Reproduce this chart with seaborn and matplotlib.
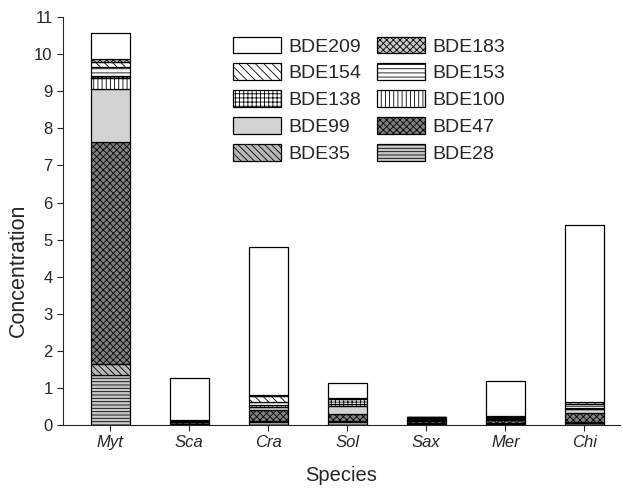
import matplotlib
matplotlib.use("Agg")
import matplotlib.pyplot as plt
import numpy as np
import pandas as pd
import seaborn as sns

species = ["Myt", "Sca", "Cra", "Sol", "Sax", "Mer", "Chi"]
congeners = ["BDE28", "BDE35", "BDE47", "BDE99", "BDE100",
             "BDE138", "BDE153", "BDE154", "BDE183", "BDE209"]

bde28 = [1.35, 0.02, 0.08, 0.08, 0.03, 0.03, 0.06]
bde35 = [0.29, 0.01, 0.03, 0.02, 0.02, 0.02, 0.03]
bde47 = [6.00, 0.04, 0.30, 0.21, 0.07, 0.08, 0.24]
bde99 = [1.42, 0.01, 0.08, 0.20, 0.02, 0.03, 0.09]
bde100 = [0.31, 0.01, 0.04, 0.05, 0.02, 0.02, 0.03]
bde138 = [0.03, 0.01, 0.02, 0.15, 0.02, 0.02, 0.02]
bde153 = [0.25, 0.02, 0.08, 0.02, 0.03, 0.03, 0.10]
bde154 = [0.15, 0.01, 0.15, 0.00, 0.01, 0.01, 0.04]
bde183 = [0.06, 0.01, 0.03, 0.00, 0.00, 0.00, 0.02]
bde209 = [0.71, 1.13, 3.99, 0.40, 0.00, 0.94, 4.77]

values = [bde28, bde35, bde47, bde99, bde100, bde138, bde153, bde154, bde183, bde209]

# (face colour, hatch)
styles = {
    "BDE28": ("#c8c8c8", "-----"),
    "BDE35": ("#b8b8b8", "\\\\\\\\\\"),
    "BDE47": ("#808080", "xxxxx"),
    "BDE99": ("#d3d3d3", ""),
    "BDE100": ("white", "||||"),
    "BDE138": ("white", "++++"),
    "BDE153": ("white", "----"),
    "BDE154": ("white", "\\\\\\\\"),
    "BDE183": ("#c8c8c8", "xxxxx"),
    "BDE209": ("white", ""),
}

sns.set_style("ticks")
plt.rcParams["font.family"] = ["Liberation Sans", "DejaVu Sans"]
plt.rcParams["hatch.linewidth"] = 0.6
plt.rcParams["hatch.color"] = "black"

fig = plt.figure(figsize=(6.23, 4.88), dpi=100)
ax = fig.add_axes([0.101, 0.129, 0.894, 0.836])

bottom = np.zeros(len(species))
handles = {}
for name, vals in zip(congeners, values):
    df = pd.DataFrame({"Species": species, "Concentration": vals})
    face, hatch = styles[name]
    sns.barplot(data=df, x="Species", y="Concentration", bottom=bottom,
                color=face, hatch=hatch, edgecolor="black", linewidth=0.9,
                width=0.5, saturation=1, ax=ax)
    handles[name] = plt.Rectangle((0, 0), 1, 1, facecolor=face, hatch=hatch,
                                  edgecolor="black", linewidth=0.9)
    bottom += np.array(vals)

# legend is read row by row in the original
order = ["BDE209", "BDE154", "BDE138", "BDE99", "BDE35",
         "BDE183", "BDE153", "BDE100", "BDE47", "BDE28"]
ax.legend([handles[n] for n in order], order, ncol=2, frameon=False,
          loc="upper left", bbox_to_anchor=(0.358, 0.945),
          bbox_transform=fig.transFigure, fontsize=14,
          handlelength=2.5, handleheight=0.95, labelspacing=0.4,
          columnspacing=0.8, handletextpad=0.35, borderpad=0)

ax.set_xlim(-0.6, 6.45)
ax.set_ylim(0, 11)
ax.set_yticks(range(0, 12))
ax.tick_params(axis="both", labelsize=12, direction="out", length=4)
ax.set_xticks(range(len(species)))
ax.set_xticklabels(species, fontstyle="italic")
ax.set_xlabel("Species", fontsize=14.5, labelpad=11)
ax.set_ylabel("Concentration", fontsize=15.5)
ax.yaxis.set_label_coords(-0.062, 0.38)
sns.despine(ax=ax)

fig.savefig("out.png", dpi=100)
